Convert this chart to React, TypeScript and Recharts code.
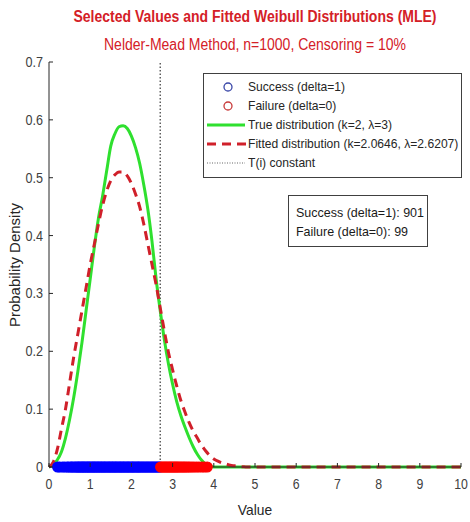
import React from "react";
import {
  ComposedChart,
  Line,
  Scatter,
  XAxis,
  YAxis,
  ReferenceLine,
  Legend,
} from "recharts";

// density curves sampled on a common grid
const gridX = [
  0, 0.1, 0.2, 0.3, 0.4, 0.5, 0.6, 0.7, 0.8, 0.9,
  1.0, 1.1, 1.2, 1.3, 1.4, 1.5, 1.6, 1.7, 1.8, 1.9,
  2.0, 2.1, 2.2, 2.3, 2.4, 2.5, 2.6, 2.7, 2.8, 2.9,
  3.0, 3.1, 3.2, 3.3, 3.4, 3.5, 3.6, 3.7, 3.8, 3.9,
  4.0, 4.1, 4.2, 4.3, 4.4, 4.5, 4.6, 4.7, 4.8,
  5, 6, 7, 8, 9, 10,
];
const trueDensity = [
  0, 0.004, 0.012, 0.026, 0.05, 0.082, 0.12, 0.165, 0.215, 0.27,
  0.325, 0.38, 0.43, 0.468, 0.512, 0.555, 0.576, 0.588, 0.59, 0.585,
  0.572, 0.552, 0.525, 0.488, 0.445, 0.39, 0.325, 0.27, 0.22, 0.178,
  0.143, 0.113, 0.089, 0.069, 0.051, 0.035, 0.022, 0.012, 0.005, 0.002,
  0, 0, 0, 0, 0, 0, 0, 0, 0,
  0, 0, 0, 0, 0, 0,
];
const fittedDensity = [
  0, 0.008, 0.03, 0.065, 0.1, 0.145, 0.19, 0.23, 0.27, 0.31,
  0.35, 0.385, 0.42, 0.452, 0.477, 0.495, 0.505, 0.51, 0.51, 0.503,
  0.49, 0.472, 0.45, 0.42, 0.385, 0.35, 0.315, 0.275, 0.235, 0.198,
  0.168, 0.14, 0.115, 0.095, 0.077, 0.062, 0.05, 0.038, 0.028, 0.02,
  0.014, 0.01, 0.007, 0.005, 0.003, 0.002, 0.001, 0.0005, 0,
  0, 0, 0, 0, 0, 0,
];

// observed values, drawn at zero density
const successX = [
  0.21, 0.26, 0.33, 0.38, 0.44, 0.47, 0.52, 0.55, 0.58, 0.62, 0.65, 0.68,
  0.71, 0.73, 0.76, 0.79, 0.81, 0.84, 0.86, 0.89, 0.92, 0.94, 0.97, 0.99,
  1.02, 1.05, 1.07, 1.1, 1.12, 1.15, 1.18, 1.2, 1.23, 1.26, 1.28, 1.31,
  1.34, 1.36, 1.39, 1.42, 1.45, 1.47, 1.5, 1.53, 1.55, 1.58, 1.61, 1.63,
  1.66, 1.69, 1.72, 1.74, 1.77, 1.8, 1.82, 1.85, 1.88, 1.91, 1.93, 1.96,
  1.99, 2.02, 2.04, 2.07, 2.1, 2.13, 2.16, 2.18, 2.21, 2.24, 2.27, 2.3,
  2.33, 2.36, 2.39, 2.42, 2.45, 2.48, 2.51, 2.54, 2.57, 2.6, 2.63, 2.66,
  2.69,
];
const failureX = [
  2.71, 2.74, 2.77, 2.8, 2.83, 2.86, 2.89, 2.92, 2.95, 2.98, 3.01, 3.04,
  3.07, 3.1, 3.13, 3.16, 3.2, 3.23, 3.27, 3.3, 3.34, 3.38, 3.42, 3.47,
  3.52, 3.58, 3.64, 3.71, 3.77, 3.84,
];

const censorTime = 2.7;
const successCount = 901;
const failureCount = 99;

const xTicks = [0, 1, 2, 3, 4, 5, 6, 7, 8, 9, 10];
const yTicks = [0, 0.1, 0.2, 0.3, 0.4, 0.5, 0.6, 0.7];

const curveRows = gridX.map((x, i) => ({
  x,
  trueDensity: trueDensity[i],
  fittedDensity: fittedDensity[i],
}));
const successRows = successX.map((x) => ({ x, y: 0 }));
const failureRows = failureX.map((x) => ({ x, y: 0 }));

const FONT = '"Liberation Sans", Arial, Helvetica, sans-serif';
const AXIS = "#262626";
const TICK_TEXT = "#404040";
const TITLE_RED = "#d42027";
const GREEN = "#2fe02f";
const DASH_RED = "#d0202a";

// narrow glyphs, like the original figure's font
const squeeze = (x: number, y: number, s: number) =>
  `translate(${x} ${y}) scale(${s} 1) translate(${-x} ${-y})`;

const XTick = ({ x, y, payload }: any) => (
  <g>
    <line x1={x} x2={x} y1={y} y2={y - 4} stroke={AXIS} />
    <text
      x={x}
      y={y + 22}
      textAnchor="middle"
      fontSize={14}
      fill={TICK_TEXT}
      fontFamily={FONT}
      transform={squeeze(x, y + 22, 0.88)}
    >
      {payload.value}
    </text>
  </g>
);

const YTick = ({ x, y, payload }: any) => (
  <g>
    <line x1={x} x2={x + 4} y1={y} y2={y} stroke={AXIS} />
    <text
      x={x - 6}
      y={y + 5}
      textAnchor="end"
      fontSize={14}
      fill={TICK_TEXT}
      fontFamily={FONT}
      transform={squeeze(x - 6, y + 5, 0.9)}
    >
      {payload.value === 0 ? "0" : payload.value.toFixed(1)}
    </text>
  </g>
);

const dotShape = (color: string) => (p: any) => (
  <circle cx={p.cx} cy={p.cy} r={5} fill={color} stroke={color} strokeWidth={1.2} />
);

const legendRows = [
  { label: "Success (delta=1)", kind: "circle", color: "#3a47a8" },
  { label: "Failure (delta=0)", kind: "circle", color: "#c83a3a" },
  { label: "True distribution (k=2, \u03bb=3)", kind: "solid", color: GREEN },
  { label: "Fitted distribution (k=2.0646, \u03bb=2.6207)", kind: "dashed", color: DASH_RED },
  { label: "T(i) constant", kind: "dotted", color: "#666" },
];

const LegendBox = () => (
  <div
    style={{
      position: "relative",
      width: 259,
      height: 105,
      boxSizing: "border-box",
      border: "1px solid #404040",
      background: "#fff",
      fontFamily: FONT,
      fontSize: 13,
      color: "#262626",
    }}
  >
    {legendRows.map((r, i) => (
      <div
        key={r.label}
        style={{
          position: "absolute",
          left: 0,
          top: 13 + i * 19 - 8,
          height: 16,
          lineHeight: "16px",
          whiteSpace: "nowrap",
        }}
      >
        <svg width={44} height={16} style={{ position: "absolute", left: 2, top: 0 }}>
          {r.kind === "circle" && (
            <circle cx={22} cy={8} r={4} fill="none" stroke={r.color} strokeWidth={1.3} />
          )}
          {r.kind === "solid" && (
            <line x1={1} x2={39} y1={8} y2={8} stroke={r.color} strokeWidth={3} />
          )}
          {r.kind === "dashed" && (
            <line x1={1} x2={40} y1={8} y2={8} stroke={r.color} strokeWidth={3} strokeDasharray="9 6" />
          )}
          {r.kind === "dotted" && (
            <line x1={1} x2={39} y1={8} y2={8} stroke={r.color} strokeWidth={1.2} strokeDasharray="1 1.5" />
          )}
        </svg>
        <span
          style={{
            position: "absolute",
            left: 44,
            transform: "scaleX(0.93)",
            transformOrigin: "left center",
          }}
        >
          {r.label}
        </span>
      </div>
    ))}
  </div>
);

export default function App() {
  return (
    <div style={{ position: "relative", width: 470, height: 522, background: "#fff", fontFamily: FONT }}>
      <style>{"body{margin:0}"}</style>
      <div
        style={{
          position: "absolute",
          left: 20,
          top: 8,
          width: 470,
          textAlign: "center",
          fontSize: 16,
          fontWeight: "bold",
          lineHeight: "18px",
          color: TITLE_RED,
          transform: "scaleX(0.875)",
        }}
      >
        Selected Values and Fitted Weibull Distributions (MLE)
      </div>
      <div
        style={{
          position: "absolute",
          left: 20,
          top: 36,
          width: 470,
          textAlign: "center",
          fontSize: 16,
          lineHeight: "18px",
          color: TITLE_RED,
          transform: "scaleX(0.875)",
        }}
      >
        Nelder-Mead Method, n=1000, Censoring = 10%
      </div>

      <ComposedChart
        width={470}
        height={522}
        data={curveRows}
        margin={{ top: 62, right: 9, bottom: 0, left: 0 }}
      >
        <XAxis
          type="number"
          dataKey="x"
          domain={[0, 10]}
          ticks={xTicks}
          interval={0}
          height={55}
          tickSize={0}
          tickMargin={0}
          tickLine={false}
          axisLine={{ stroke: AXIS }}
          tick={<XTick />}
        />
        <YAxis
          type="number"
          domain={[0, 0.7]}
          ticks={yTicks}
          interval={0}
          width={49}
          tickSize={0}
          tickMargin={0}
          tickLine={false}
          axisLine={{ stroke: AXIS }}
          tick={<YTick />}
        />
        <ReferenceLine
          x={censorTime}
          stroke="#555"
          strokeWidth={1.4}
          strokeDasharray="1.5 2"
        />
        <Scatter data={successRows} dataKey="y" shape={dotShape("#0000ff")} isAnimationActive={false} />
        <Scatter data={failureRows} dataKey="y" shape={dotShape("#ff0000")} isAnimationActive={false} />
        <Line
          type="monotone"
          dataKey="trueDensity"
          stroke={GREEN}
          strokeWidth={3}
          dot={false}
          isAnimationActive={false}
        />
        <Line
          type="monotone"
          dataKey="fittedDensity"
          stroke={DASH_RED}
          strokeWidth={3}
          strokeDasharray="9 6"
          dot={false}
          isAnimationActive={false}
        />
        <Legend
          layout="vertical"
          align="center"
          verticalAlign="middle"
          wrapperStyle={{ left: 203, top: 73, width: 259, height: 105 }}
          content={() => <LegendBox />}
        />
      </ComposedChart>

      <div
        style={{
          position: "absolute",
          left: 288,
          top: 195,
          width: 140,
          height: 52,
          boxSizing: "border-box",
          border: "1px solid #404040",
          background: "#fff",
          fontSize: 13,
          color: "#1a1a1a",
        }}
      >
        <div
          style={{
            position: "absolute",
            left: 7,
            top: 9,
            lineHeight: "16px",
            whiteSpace: "nowrap",
            transform: "scaleX(0.96)",
            transformOrigin: "left center",
          }}
        >
          Success (delta=1): {successCount}
        </div>
        <div
          style={{
            position: "absolute",
            left: 7,
            top: 28,
            lineHeight: "16px",
            whiteSpace: "nowrap",
            transform: "scaleX(0.96)",
            transformOrigin: "left center",
          }}
        >
          Failure (delta=0): {failureCount}
        </div>
      </div>

      <div
        style={{
          position: "absolute",
          left: 14,
          top: 265,
          transform: "translate(-50%, -50%) rotate(-90deg)",
          fontSize: 15,
          color: "#262626",
          whiteSpace: "nowrap",
        }}
      >
        Probability Density
      </div>
      <div
        style={{
          position: "absolute",
          left: 0,
          top: 501,
          width: 510,
          textAlign: "center",
          fontSize: 15,
          lineHeight: "18px",
          color: "#262626",
          transform: "scaleX(0.92)",
        }}
      >
        Value
      </div>
    </div>
  );
}
